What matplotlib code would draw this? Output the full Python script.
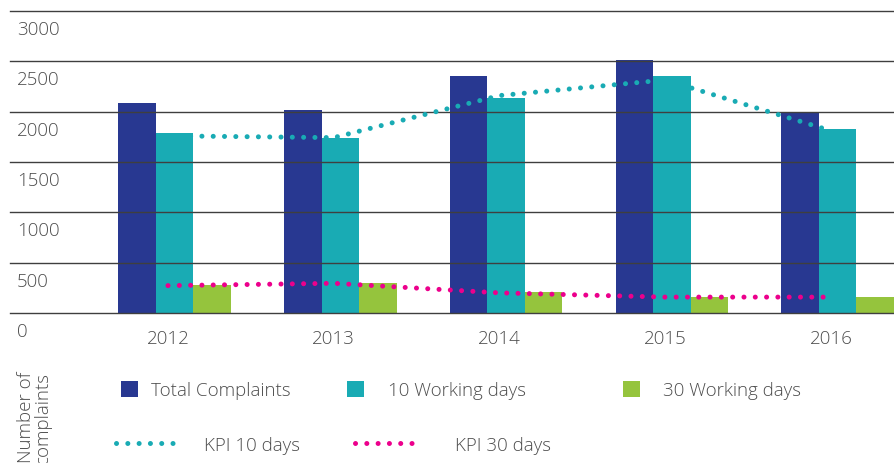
import matplotlib
matplotlib.use('Agg')
import matplotlib.pyplot as plt
import numpy as np

years = ['2012', '2013', '2014', '2015', '2016']
total_complaints = [2090, 2020, 2350, 2510, 2000]
within_10_days = [1790, 1740, 2140, 2350, 1830]
within_30_days = [280, 300, 210, 160, 160]
kpi_10_days = [1760, 1742, 2160, 2315, 1810]
kpi_30_days = [272, 295, 200, 158, 158]
y_ticks = [0, 500, 1000, 1500, 2000, 2500, 3000]

NAVY = '#283891'
TEAL = '#19abb4'
GREEN = '#95c43d'
PINK = '#ec008c'
TEXT = '#4d4d4d'
GRID = '#3f3f3f'

plt.rcParams['font.family'] = ['Open Sans', 'DejaVu Sans']
plt.rcParams['font.weight'] = 'light'
FS = 13.5

W, H = 895, 464
fig = plt.figure(figsize=(W / 100, H / 100), dpi=100)
# plot area: x from 10px to right edge, y from 0 (314px) to 3000 (12px)
ax = fig.add_axes([10 / W, (H - 314) / H, (W - 10) / W, 302 / H])

x = np.arange(len(years))
w = 0.226
shift = 0.04
b_total = ax.bar(x + shift - w, total_complaints, w, color=NAVY, zorder=1)
b_10 = ax.bar(x + shift, within_10_days, w, color=TEAL, zorder=1)
b_30 = ax.bar(x + shift + w, within_30_days, w, color=GREEN, zorder=1)

for v in y_ticks:
    ax.axhline(v, color=GRID, lw=1.0, zorder=2, clip_on=False)
    ax.annotate(f'{v}', xy=(0, v), xycoords=('axes fraction', 'data'),
                xytext=(7, -9), textcoords='offset pixels',
                ha='left', va='top', fontsize=FS, color=TEXT)

dots = (0, (0.01, 2.25))
l10, = ax.plot(x, kpi_10_days, color=TEAL, lw=3.6, linestyle=dots,
               dash_capstyle='round', zorder=3)
l30, = ax.plot(x, kpi_30_days, color=PINK, lw=3.6, linestyle=dots,
               dash_capstyle='round', zorder=3)

ax.set_xlim((10 - 168) / 165.75, (W - 168) / 165.75)
ax.set_ylim(0, 3000)
ax.set_xticks(x, years)
ax.tick_params(axis='x', length=0, pad=11.5, labelsize=FS, labelcolor=TEXT)
ax.tick_params(axis='y', left=False, labelleft=False)
for s in ax.spines.values():
    s.set_visible(False)

# legend entries placed one by one: (handle, label, x start px, y center px, length, gap)
entries = [
    (b_total, 'Total Complaints', 121, 391, 17, 13),
    (b_10, '10 Working days', 347, 391, 17, 24),
    (b_30, '30 Working days', 623, 391, 17, 23),
    (l10, 'KPI 10 days', 116, 446, 57, 31),
    (l30, 'KPI 30 days', 355, 446, 57, 43),
]
fs_px = FS * 100 / 72
for h, lab, hx, hy, hl, gap in entries:
    is_bar = hl == 17
    leg = fig.legend([h], [lab], loc='center left',
                     bbox_to_anchor=(hx / W, 1 - hy / H),
                     frameon=False, borderpad=0, borderaxespad=0,
                     handlelength=hl / fs_px,
                     handleheight=(17 / fs_px) if is_bar else 0.7,
                     handletextpad=gap / fs_px, fontsize=FS)
    for t in leg.get_texts():
        t.set_color(TEXT)

fig.text(17 / W, 1 - 372 / H, 'Number of\ncomplaints', rotation=90,
         ha='left', va='top', multialignment='right',
         fontsize=FS, color=TEXT, linespacing=0.95)

fig.savefig('out.png', dpi=100)
